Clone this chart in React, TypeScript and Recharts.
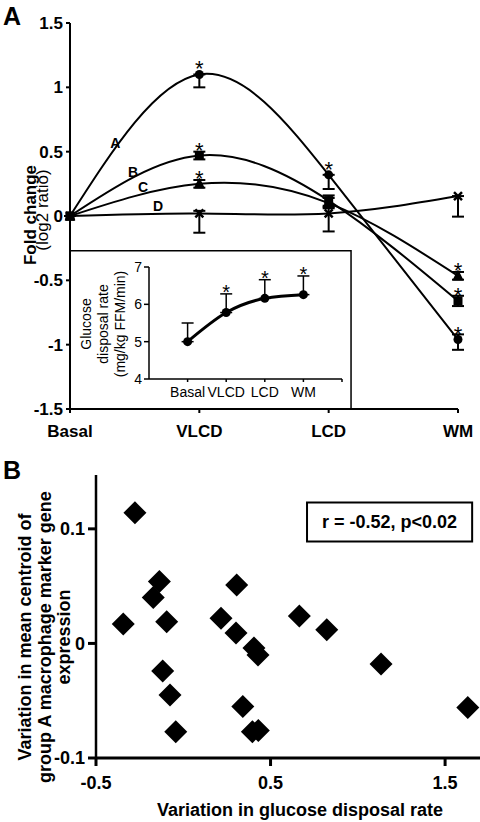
import React from "react";
import {
  ComposedChart,
  Line,
  XAxis,
  YAxis,
  ErrorBar,
  ReferenceArea,
  ReferenceDot,
  ScatterChart,
  Scatter,
} from "recharts";

const FONT = "'Liberation Sans', Arial, sans-serif";

// panel A: fold change per diet stage
const stages = ["Basal", "VLCD", "LCD", "WM"];
const groupA = [0, 1.1, 0.32, -0.96];
const groupB = [0, 0.47, 0.12, -0.66];
const groupC = [0, 0.25, 0.1, -0.465];
const groupD = [0, 0.02, 0.02, 0.155];
// error bars as [below, above]
const errA = [[0, 0], [0.1, 0], [0.11, 0], [0.08, 0.04]];
const errB = [[0, 0], [0.03, 0.03], [0.04, 0.04], [0.04, 0.04]];
const errC = [[0, 0], [0.03, 0.03], [0.04, 0.04], [0.03, 0.03]];
const errD = [[0, 0], [0.15, 0.02], [0.14, 0.05], [0.16, 0]];
const starsA = [0, 1, 1, 1];
const starsB = [0, 1, 0, 1];
const starsC = [0, 1, 0, 1];
const starsD = [0, 0, 0, 0];

// inset: glucose disposal rate
const insetValues = [5.0, 5.78, 6.16, 6.26];
const insetErrUp = [0.5, 0.5, 0.5, 0.5];
const insetStars = [0, 1, 1, 1];

// panel B: scatter
const varGdr = [-0.277, -0.344, -0.137, -0.172, -0.095, 0.216, 0.306, 0.302, 0.405, 0.428, 0.665, 0.822, 1.133, -0.118, -0.076, -0.043, 0.341, 0.396, 0.43, 1.63];
const varCentroid = [0.114, 0.017, 0.054, 0.04, 0.019, 0.022, 0.051, 0.009, -0.004, -0.01, 0.024, 0.012, -0.018, -0.024, -0.045, -0.077, -0.055, -0.077, -0.076, -0.056];

const rowsA = stages.map((s, i) => ({
  x: i,
  a: groupA[i],
  b: groupB[i],
  c: groupC[i],
  d: groupD[i],
  aErr: errA[i],
  bErr: errB[i],
  cErr: errC[i],
  dErr: errD[i],
}));

const insetRows = stages.map((s, i) => ({
  x: i,
  v: insetValues[i],
  err: [0, insetErrUp[i]],
  top: insetValues[i] + insetErrUp[i],
}));

const scatterRows = varGdr.map((x, i) => ({ x, y: varCentroid[i] }));

const Marker = ({ shape, cx, cy }: { shape: string; cx: number; cy: number }) => {
  if (shape === "circle") return <circle cx={cx} cy={cy} r={4.5} fill="#000" />;
  if (shape === "square") return <rect x={cx - 4.5} y={cy - 4.5} width={9} height={9} fill="#000" />;
  if (shape === "triangle")
    return (
      <path
        d={`M${cx},${cy - 5} L${cx + 4.5},${cy + 4} L${cx - 4.5},${cy + 4} Z`}
        fill="#000"
        stroke="#000"
        strokeWidth={1.5}
        strokeLinejoin="round"
      />
    );
  return (
    <path
      d={`M${cx - 4},${cy - 4} L${cx + 4},${cy + 4} M${cx + 4},${cy - 4} L${cx - 4},${cy + 4}`}
      stroke="#000"
      strokeWidth={2.5}
    />
  );
};

const dotFn = (shape: string, stars: number[]) => (props: any) => {
  const { cx, cy, index } = props;
  if (cx == null || cy == null) return <g key={`${shape}-${index}`} />;
  return (
    <g key={`${shape}-${index}`}>
      <Marker shape={shape} cx={cx} cy={cy} />
      {stars[index] ? (
        <text x={cx} y={cy + 2} textAnchor="middle" fontSize={22} fill="#000">
          *
        </text>
      ) : null}
    </g>
  );
};

const insetStarFn = (props: any) => {
  const { cx, cy, index } = props;
  if (!insetStars[index]) return <g key={`is-${index}`} />;
  return (
    <text key={`is-${index}`} x={cx} y={cy + 5} textAnchor="middle" fontSize={20} fill="#000">
      *
    </text>
  );
};

const curveLabel = (txt: string) => (p: any) => (
  <text
    x={p.cx}
    y={p.cy}
    textAnchor="middle"
    dominantBaseline="central"
    fontSize={14}
    fontWeight="bold"
    fill="#000"
  >
    {txt}
  </text>
);

const diamond = (p: any) => {
  const { cx, cy } = p;
  const h = 11.5;
  return <path d={`M${cx},${cy - h} L${cx + h},${cy} L${cx},${cy + h} L${cx - h},${cy} Z`} fill="#000" />;
};

// rotated axis title (html), centred on (x, y)
const VTitle = ({ x, y, size, bold, children }: any) => (
  <div
    style={{
      position: "absolute",
      left: x,
      top: y,
      transform: "translate(-50%, -50%) rotate(-90deg)",
      whiteSpace: "nowrap",
      fontSize: size,
      lineHeight: 1,
      fontWeight: bold ? "bold" : "normal",
      color: "#000",
    }}
  >
    {children}
  </div>
);

const boldTick = { fill: "#000", fontSize: 17, fontWeight: "bold" };
const axisLine2 = { stroke: "#000", strokeWidth: 2 };

const App = () => {
  return (
    <div
      style={{
        position: "absolute",
        left: 0,
        top: 0,
        width: 480,
        height: 822,
        background: "#fff",
        fontFamily: FONT,
        overflow: "hidden",
      }}
    >
      <div style={{ position: "absolute", left: 0, top: 0 }}>
        <ComposedChart width={480} height={450} data={rowsA} margin={{ top: 23, right: 22, bottom: 11, left: 0 }}>
          <XAxis
            dataKey="x"
            type="number"
            domain={[0, 3]}
            ticks={[0, 1, 2, 3]}
            interval={0}
            tickFormatter={(i: number) => stages[i]}
            height={30}
            axisLine={axisLine2}
            tickLine={axisLine2}
            tickSize={4}
            tickMargin={12}
            tick={boldTick}
          />
          <YAxis
            type="number"
            domain={[-1.5, 1.5]}
            ticks={[-1.5, -1, -0.5, 0, 0.5, 1, 1.5]}
            interval={0}
            width={70}
            axisLine={axisLine2}
            tickLine={axisLine2}
            tickSize={4}
            tickMargin={3}
            tick={boldTick}
          />
          <ReferenceArea x1={0} x2={2.173} y1={-1.5} y2={-0.27} fill="#fff" fillOpacity={1} stroke="#000" strokeWidth={1.5} />
          <Line type="natural" dataKey="a" stroke="#000" strokeWidth={2} dot={dotFn("circle", starsA)} activeDot={false} isAnimationActive={false}>
            <ErrorBar dataKey="aErr" direction="y" width={6} strokeWidth={2} stroke="#000" />
          </Line>
          <Line type="natural" dataKey="b" stroke="#000" strokeWidth={2} dot={dotFn("square", starsB)} activeDot={false} isAnimationActive={false}>
            <ErrorBar dataKey="bErr" direction="y" width={6} strokeWidth={2} stroke="#000" />
          </Line>
          <Line type="natural" dataKey="c" stroke="#000" strokeWidth={2} dot={dotFn("triangle", starsC)} activeDot={false} isAnimationActive={false}>
            <ErrorBar dataKey="cErr" direction="y" width={6} strokeWidth={2} stroke="#000" />
          </Line>
          <Line type="natural" dataKey="d" stroke="#000" strokeWidth={2} dot={dotFn("cross", starsD)} activeDot={false} isAnimationActive={false}>
            <ErrorBar dataKey="dErr" direction="y" width={6} strokeWidth={2} stroke="#000" />
          </Line>
          <ReferenceDot x={0.35} y={0.566} r={0} shape={curveLabel("A")} />
          <ReferenceDot x={0.487} y={0.341} r={0} shape={curveLabel("B")} />
          <ReferenceDot x={0.565} y={0.225} r={0} shape={curveLabel("C")} />
          <ReferenceDot x={0.68} y={0.078} r={0} shape={curveLabel("D")} />
        </ComposedChart>
      </div>

      {/* inset */}
      <div style={{ position: "absolute", left: 0, top: 250 }}>
        <ComposedChart width={360} height={160} data={insetRows} margin={{ top: 17, right: 18, bottom: 6, left: 0 }}>
          <XAxis
            dataKey="x"
            type="number"
            domain={[-1, 4]}
            ticks={[0, 1, 2, 3, 4]}
            interval={0}
            tickFormatter={(i: number) => stages[i] ?? ""}
            height={25}
            axisLine={{ stroke: "#000", strokeWidth: 1.5 }}
            tickLine={{ stroke: "#000", strokeWidth: 1.5 }}
            tickSize={3}
            tickMargin={5}
            tick={{ fill: "#000", fontSize: 14 }}
          />
          <YAxis
            type="number"
            domain={[4, 7]}
            ticks={[4, 5, 6, 7]}
            interval={0}
            width={149}
            axisLine={{ stroke: "#000", strokeWidth: 1.5 }}
            tickLine={{ stroke: "#000", strokeWidth: 1.5 }}
            tickSize={5}
            tickMargin={2}
            tick={{ fill: "#000", fontSize: 14 }}
          />
          <Line
            type="natural"
            dataKey="v"
            stroke="#000"
            strokeWidth={3}
            dot={{ r: 4.5, fill: "#000", stroke: "#000", strokeWidth: 0 }}
            activeDot={false}
            isAnimationActive={false}
          >
            <ErrorBar dataKey="err" direction="y" width={6} strokeWidth={1.5} stroke="#000" />
          </Line>
          <Line dataKey="top" stroke="none" dot={insetStarFn} activeDot={false} isAnimationActive={false} />
        </ComposedChart>
      </div>

      {/* panel B */}
      <div style={{ position: "absolute", left: 0, top: 460 }}>
        <ScatterChart width={480} height={362} margin={{ top: 15, right: 0, bottom: 0, left: 0 }}>
          <XAxis
            dataKey="x"
            type="number"
            domain={[-0.5, 1.7]}
            ticks={[-0.5, 0.5, 1.5]}
            interval={0}
            height={64}
            axisLine={{ stroke: "#000", strokeWidth: 3 }}
            tickLine={{ stroke: "#000", strokeWidth: 3 }}
            tickSize={8}
            tickMargin={10}
            tick={{ fill: "#000", fontSize: 18, fontWeight: "bold" }}
          />
          <YAxis
            dataKey="y"
            type="number"
            domain={[-0.1, 0.147]}
            ticks={[-0.1, 0, 0.1]}
            interval={0}
            width={96}
            axisLine={{ stroke: "#000", strokeWidth: 2.5 }}
            tickLine={{ stroke: "#000", strokeWidth: 3 }}
            tickSize={8}
            tickMargin={3}
            tick={{ fill: "#000", fontSize: 18, fontWeight: "bold" }}
          />
          <Scatter data={scatterRows} shape={diamond} isAnimationActive={false} />
          <ReferenceArea
            x1={0.709}
            x2={1.655}
            y1={0.089}
            y2={0.123}
            fill="#fff"
            fillOpacity={1}
            stroke="#000"
            strokeWidth={2}
            label={{ value: "r = -0.52, p<0.02", position: "center", fill: "#000", fontSize: 18, fontWeight: "bold" }}
          />
        </ScatterChart>
      </div>

      {/* panel letters and axis titles */}
      <div style={{ position: "absolute", left: 3, top: 4, fontSize: 25, fontWeight: "bold", lineHeight: 1 }}>A</div>
      <div style={{ position: "absolute", left: 3, top: 458, fontSize: 25, fontWeight: "bold", lineHeight: 1 }}>B</div>
      <VTitle x={30} y={215} size={17} bold>Fold change</VTitle>
      <VTitle x={42} y={210} size={17}>(log2 ratio)</VTitle>
      <VTitle x={86} y={324} size={14}>Glucose</VTitle>
      <VTitle x={103} y={324} size={14}>disposal rate</VTitle>
      <VTitle x={120} y={324} size={14}>(mg/kg FFM/min)</VTitle>
      <VTitle x={25} y={637} size={18} bold>Variation in mean centroid of</VTitle>
      <VTitle x={45} y={637} size={18} bold>group A macrophage marker gene</VTitle>
      <VTitle x={64} y={637} size={18} bold>expression</VTitle>
      <div
        style={{
          position: "absolute",
          left: 300,
          top: 810,
          transform: "translate(-50%, -50%)",
          whiteSpace: "nowrap",
          fontSize: 18,
          lineHeight: 1,
          fontWeight: "bold",
        }}
      >
        Variation in glucose disposal rate
      </div>
    </div>
  );
};

export default App;
